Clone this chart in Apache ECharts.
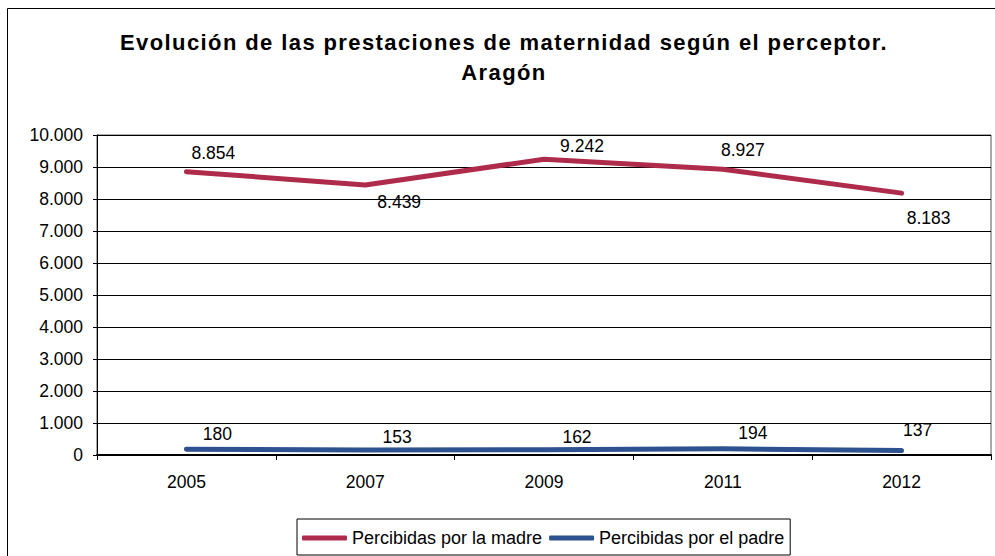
<!DOCTYPE html>
<html>
<head>
<meta charset="utf-8">
<script src="https://cdn.jsdelivr.net/npm/echarts@6/dist/echarts.min.js"></script>
<style>
  html, body { margin: 0; padding: 0; background: #fff; }
  #chart { width: 995px; height: 556px; }
</style>
</head>
<body>
<div id="chart"></div>
<script>
// Prestaciones de maternidad en Aragón, por perceptor
const years = ['2005', '2007', '2009', '2011', '2012'];
const madre = [8854, 8439, 9242, 8927, 8183];
const padre = [180, 153, 162, 194, 137];
const yTicks = { min: 0, max: 10000, step: 1000 };

// Where each value label sits relative to its point (x, y in px)
const madreLabelShift = [[27, -19], [34, 17], [38, -13], [20, -19], [27, 25]];
const padreLabelShift = [[31, -15], [32, -13], [33, -13], [30, -16], [16, -21]];

const TITLE_LINES = ['Evolución de las prestaciones de maternidad según el perceptor.', 'Aragón'];
const FONT = "'Liberation Sans', Arial, sans-serif";
const RED = '#AE2B4B';
const BLUE = '#2E5190';
const NAMES = ['Percibidas por la madre', 'Percibidas por el padre'];

// Thousands separated with a dot (es-ES)
function fmt(v) {
  return String(Math.round(v)).replace(/\B(?=(\d{3})+(?!\d))/g, '.');
}

function withLabels(values, shifts) {
  return values.map((v, i) => ({
    value: v,
    label: { offset: shifts[i] }
  }));
}

function lineSeries(name, values, shifts, color) {
  return {
    name: name,
    type: 'line',
    data: withLabels(values, shifts),
    symbol: 'circle',
    symbolSize: 1,
    showSymbol: true,
    itemStyle: { color: 'rgba(0,0,0,0)', borderWidth: 0 },
    lineStyle: { color: color, width: 5, cap: 'round', join: 'round' },
    label: {
      show: true,
      position: 'inside',
      fontFamily: FONT,
      fontSize: 17.5,
      color: '#000',
      formatter: p => fmt(p.value)
    },
    z: 3
  };
}

const chart = echarts.init(document.getElementById('chart'), null, { renderer: 'svg' });

chart.setOption({
  backgroundColor: '#fff',
  animation: false,
  textStyle: { fontFamily: FONT },
  graphic: [{
    type: 'rect',
    shape: { x: 7.5, y: 8.5, width: 1000, height: 600 },
    style: { fill: 'none', stroke: '#000', lineWidth: 1 },
    silent: true
  }],
  title: {
    text: TITLE_LINES.join('\n'),
    left: 504,
    top: 27,
    padding: 0,
    textAlign: 'center',
    textStyle: {
      fontFamily: FONT,
      fontWeight: 'bold',
      fontSize: 22,
      lineHeight: 30,
      color: '#000'
    }
  },
  legend: {
    left: 297,
    top: 519,
    padding: [10, 6, 8, 5],
    itemGap: 7,
    itemWidth: 45,
    itemHeight: 5,
    icon: 'roundRect',
    borderColor: '#000',
    borderWidth: 1,
    textStyle: { fontFamily: FONT, fontSize: 18, color: '#000' },
    data: [
      { name: NAMES[0], itemStyle: { color: RED } },
      { name: NAMES[1], itemStyle: { color: BLUE } }
    ]
  },
  grid: {
    left: 97,
    top: 135,
    right: 4,
    bottom: 101,
    show: true,
    borderColor: '#555',
    borderWidth: 1,
    containLabel: false
  },
  xAxis: {
    type: 'category',
    data: years,
    boundaryGap: true,
    axisLine: { lineStyle: { color: '#000', width: 2 } },
    axisTick: { show: true, length: 5, alignWithLabel: false, lineStyle: { color: '#000' } },
    axisLabel: { fontFamily: FONT, fontSize: 17.5, color: '#000', margin: 18 },
    splitLine: { show: false }
  },
  yAxis: {
    type: 'value',
    min: yTicks.min,
    max: yTicks.max,
    interval: yTicks.step,
    axisLine: { show: true, lineStyle: { color: '#000', width: 1 } },
    axisTick: { show: true, length: 4, lineStyle: { color: '#000' } },
    axisLabel: { fontFamily: FONT, fontSize: 17.5, color: '#000', margin: 14, formatter: fmt },
    splitLine: { show: true, lineStyle: { color: '#000', width: 1 } }
  },
  series: [
    lineSeries(NAMES[0], madre, madreLabelShift, RED),
    lineSeries(NAMES[1], padre, padreLabelShift, BLUE)
  ]
});

// The title is set with a slightly open tracking
document.querySelectorAll('#chart svg text').forEach(t => {
  if (TITLE_LINES.indexOf(t.textContent) !== -1) {
    t.style.letterSpacing = '1.4px';
  }
});
</script>
</body>
</html>
